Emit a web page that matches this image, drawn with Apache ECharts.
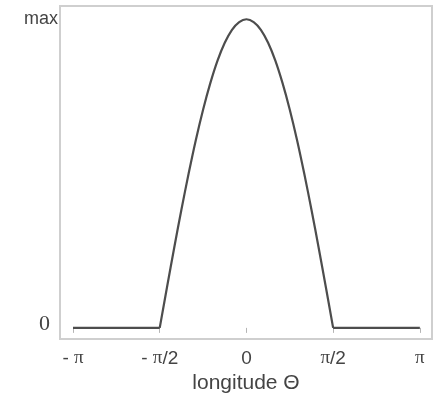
<!DOCTYPE html>
<html>
<head>
<meta charset="utf-8">
<script src="https://cdn.jsdelivr.net/npm/echarts@6/dist/echarts.min.js"></script>
<style>
  html, body { margin: 0; padding: 0; background: #fff; }
  #chart { width: 435px; height: 398px; }
</style>
</head>
<body>
<div id="chart"></div>
<script>
// longitude in units of pi, response (0 .. max)
const theta = [
  -1, -0.5, -0.4583, -0.4167, -0.375, -0.3333, -0.2917, -0.25, -0.2083, -0.1667, -0.125, -0.0833, -0.0417,
  0, 0.0417, 0.0833, 0.125, 0.1667, 0.2083, 0.25, 0.2917, 0.3333, 0.375, 0.4167, 0.4583, 0.5, 1
];
const response = [
  0, 0, 0.131, 0.259, 0.383, 0.5, 0.609, 0.707, 0.793, 0.866, 0.924, 0.966, 0.991,
  1, 0.991, 0.966, 0.924, 0.866, 0.793, 0.707, 0.609, 0.5, 0.383, 0.259, 0.131, 0, 0
];
const xTicks = [-1, -0.5, 0, 0.5, 1];
const xTickLabels = ["- {p|π}", "- {p|π}/2", "0", "{p|π}/2", "{p|π}"];
const yTicks = [0, 1];
const yTickLabels = ["{z|0}", "max"];

const points = theta.map((t, i) => [t, response[i]]);
const last = points.length - 1;
const lineStyle = { color: "#4d4d4d", width: 2.2 };

const chart = echarts.init(document.getElementById("chart"), null, { renderer: "canvas" });

const option = {
  animation: false,
  grid: {
    left: 60,
    right: 3,
    top: 6,
    bottom: 59,
    outerBoundsMode: "none",
    show: true,
    borderColor: "#cfcfcf",
    borderWidth: 2,
  },
  xAxis: {
    type: "value",
    min: -1.075,
    max: 1.07,
    name: "longitude Θ",
    nameLocation: "middle",
    nameGap: 30,
    nameTextStyle: {
      fontFamily: "Liberation Sans",
      fontSize: 21,
      color: "#444",
    },
    axisLine: { show: false },
    splitLine: { show: false },
    axisTick: {
      show: true,
      length: 5,
      customValues: xTicks,
      lineStyle: { color: "#b5b5b5", width: 1 },
    },
    axisLabel: {
      customValues: xTicks,
      margin: 10,
      fontFamily: "Liberation Sans",
      fontSize: 19,
      color: "#444",
      formatter: (v) => xTickLabels[xTicks.indexOf(v)],
      rich: {
        p: { fontFamily: "Liberation Serif", fontSize: 19, color: "#444" },
      },
    },
  },
  yAxis: {
    type: "value",
    min: -0.036,
    max: 1.043,
    axisLine: { show: false },
    splitLine: { show: false },
    axisTick: { show: false },
    axisLabel: {
      customValues: yTicks,
      margin: 2,
      fontFamily: "Liberation Sans",
      fontSize: 18,
      color: "#444",
      formatter: (v) => yTickLabels[yTicks.indexOf(v)],
      rich: {
        z: {
          fontFamily: "Liberation Serif",
          fontSize: 22,
          color: "#444",
          padding: [0, 8, 8, 0],
        },
      },
    },
  },
  series: [
    {
      type: "line",
      data: points.slice(0, 2),
      showSymbol: false,
      lineStyle: lineStyle,
      emphasis: { disabled: true },
    },
    {
      type: "line",
      data: points.slice(1, last),
      smooth: 0.3,
      showSymbol: false,
      lineStyle: lineStyle,
      emphasis: { disabled: true },
    },
    {
      type: "line",
      data: points.slice(last - 1),
      showSymbol: false,
      lineStyle: lineStyle,
      emphasis: { disabled: true },
    },
  ],
};

chart.setOption(option);
</script>
</body>
</html>
